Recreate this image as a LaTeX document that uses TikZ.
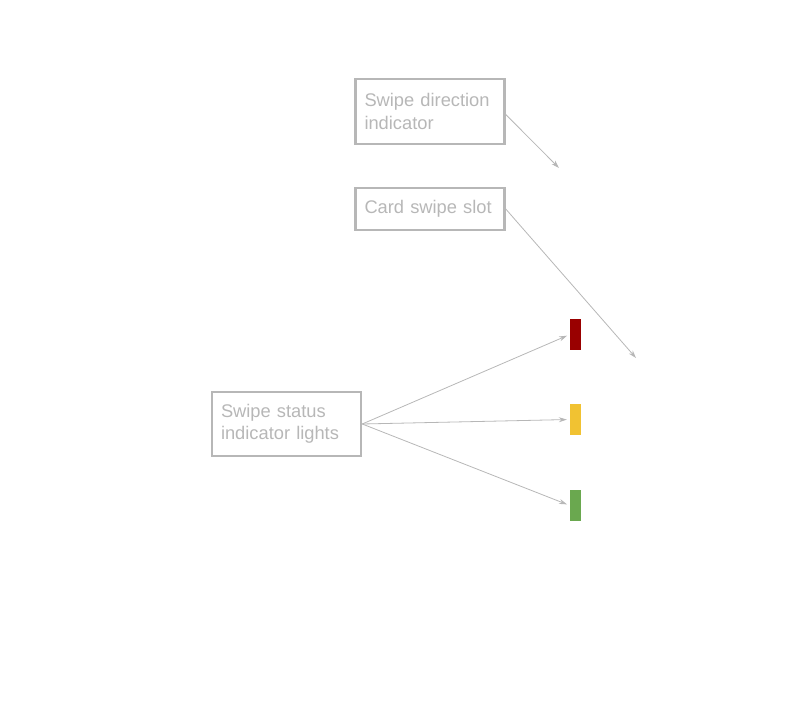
\documentclass[tikz,border=0pt]{standalone}
\usepackage{fontspec}
\setmainfont{Liberation Sans}
\usetikzlibrary{arrows.meta}
\definecolor{edgegray}{HTML}{B7B7B7}
\definecolor{lampred}{HTML}{990000}
\definecolor{lampyellow}{HTML}{F1C232}
\definecolor{lampgreen}{HTML}{6AA84F}
\begin{document}
\begin{tikzpicture}
[x=1pt,y=-1pt,
callout/.style={rectangle,draw=edgegray,line width=2.5pt,text=edgegray,inner xsep=9pt,inner ysep=0pt,align=left,text width=131pt,font=\fontsize{18.3}{22.5}\selectfont},
lamp/.style={rectangle,minimum width=11pt,minimum height=31pt,inner sep=0pt},
pointer/.style={draw=edgegray,line width=0.8pt,-{Stealth[length=8pt,width=5pt]}}]
\useasboundingbox (0,0) rectangle (792,719);
\node[callout,minimum height=65pt] (direction) at (430,111.5) {Swipe direction\\indicator};
\node[callout,minimum height=42pt] (slot) at (430,209) {Card swipe slot};
\node[callout,minimum height=64pt] (status) at (286.5,424) {Swipe status\\indicator lights};
\node[lamp,fill=lampred] (red) at (575.5,334.5) {};
\node[lamp,fill=lampyellow] (yellow) at (575.5,419.5) {};
\node[lamp,fill=lampgreen] (green) at (575.5,505.5) {};
\coordinate (dirtip) at (559,168);
\coordinate (slottip) at (636,358);
\draw[pointer] (direction.east) ++(0,3) -- (dirtip);
\draw[pointer] (slot.east) -- (slottip);
\foreach \l in {red,yellow,green}
{
	\draw[pointer,shorten >=3pt] (status.east) -- (\l.west);
}
\end{tikzpicture}
\end{document}
